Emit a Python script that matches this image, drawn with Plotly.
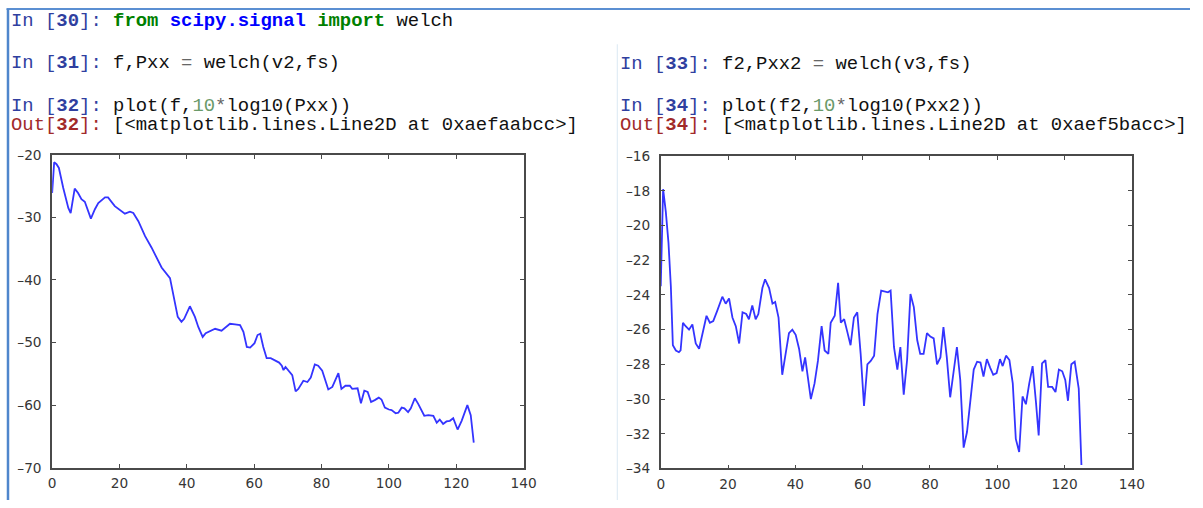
import plotly.graph_objects as go

# ---------------- data ----------------
f1 = [0, 0.6, 1.3, 2.0, 3.3, 4.8, 5.5, 6.7, 7.7, 8.7, 9.7, 11.5, 12.7, 13.7, 15.7, 16.6, 18.6, 20.6,
      21.6, 23.1, 24.1, 25.6, 27.6, 29.5, 32.5, 35.0, 36.0, 37.3, 38.4, 39.2, 40.9, 42.4, 43.4, 44.7,
      45.6, 47.4, 48.4, 50.3, 51.5, 52.8, 54.3, 55.8, 56.8, 57.8, 58.8, 60.1, 61.0, 61.8, 62.7, 63.7,
      64.9, 66.2, 67.4, 68.2, 68.7, 69.3, 70.3, 71.3, 72.3, 73.1, 74.6, 75.8, 76.8, 78.0, 79.0, 80.2,
      82.0, 83.2, 85.0, 85.9, 87.1, 88.4, 89.1, 90.7, 91.7, 92.7, 93.7, 94.7, 95.8, 97.0, 97.8, 98.8,
      100.0, 100.8, 102.0, 102.8, 103.8, 104.6, 105.7, 106.5, 107.7, 108.7, 110.5, 111.7, 113.2, 114.2,
      115.1, 116.1, 117.1, 118.1, 119.1, 120.4, 121.6, 123.3, 124.3, 125.2]
pxx_db = [-26.1, -21.2, -21.5, -22.1, -25.3, -28.5, -29.3, -25.4, -26.1, -27.1, -27.5, -30.2, -28.7,
          -27.7, -26.8, -26.8, -28.2, -29.0, -29.4, -29.1, -29.3, -30.6, -33.0, -34.8, -38.0, -39.7,
          -42.2, -45.9, -46.7, -46.2, -44.2, -45.9, -47.5, -49.1, -48.5, -48.1, -47.8, -48.1, -47.6,
          -47.0, -47.1, -47.2, -48.3, -50.7, -50.8, -50.1, -48.8, -48.6, -50.7, -52.5, -52.5, -52.9,
          -53.2, -53.7, -54.4, -53.9, -54.6, -55.2, -57.8, -57.4, -56.1, -56.3, -55.6, -53.5, -53.7,
          -54.5, -57.5, -57.1, -54.9, -57.4, -56.9, -56.9, -57.4, -57.3, -59.7, -57.7, -57.9, -59.5,
          -59.2, -58.8, -59.1, -60.4, -60.7, -60.8, -61.3, -61.2, -60.4, -60.5, -61.1, -60.5, -58.9,
          -59.8, -61.7, -61.6, -61.7, -62.8, -62.3, -63.0, -62.6, -62.5, -62.1, -63.9, -62.5, -60.0,
          -61.6, -66.0]

f2 = [0, 0.7, 1.5, 2.3, 3.0, 3.6, 4.5, 5.4, 5.9, 6.6, 7.4, 8.4, 9.4, 10.4, 11.4, 12.4, 13.6, 14.6,
      15.6, 16.8, 18.3, 19.3, 20.3, 21.3, 22.3, 23.3, 24.3, 25.4, 26.2, 27.2, 28.2, 29.0, 30.2, 31.0,
      32.2, 33.2, 34.0, 35.0, 36.1, 37.1, 38.1, 39.1, 40.1, 41.1, 42.1, 42.9, 43.6, 44.6, 45.7, 46.7,
      47.8, 48.7, 49.8, 50.5, 51.7, 52.7, 53.5, 54.5, 55.4, 56.4, 57.4, 58.4, 59.4, 60.4, 61.4, 62.4,
      63.4, 64.4, 65.5, 66.5, 67.5, 68.3, 69.3, 70.3, 71.2, 72.2, 73.2, 74.2, 75.2, 76.2, 77.1, 78.1,
      79.1, 80.1, 81.1, 82.1, 83.1, 84.0, 85.0, 86.0, 87.0, 88.0, 89.0, 90.0, 91.0, 92.0, 93.0, 94.0,
      95.0, 95.9, 96.9, 97.9, 98.8, 99.8, 100.8, 101.6, 102.6, 103.6, 104.6, 105.5, 106.5, 107.5,
      108.5, 109.5, 110.5, 111.5, 112.3, 113.3, 114.3, 115.1, 116.3, 117.3, 118.3, 119.3, 120.2,
      121.0, 122.0, 123.0, 124.2, 125.0]
pxx2_db = [-23.5, -17.9, -19.2, -21.0, -23.5, -26.9, -27.2, -27.3, -27.2, -25.6, -25.8, -26.0, -25.7,
           -26.8, -27.1, -26.2, -25.2, -25.6, -25.5, -24.9, -24.1, -24.5, -24.2, -25.3, -25.8, -26.8,
           -25.0, -25.1, -25.4, -24.6, -25.4, -25.1, -23.6, -23.1, -23.6, -24.5, -24.4, -25.3, -28.6,
           -27.4, -26.2, -26.0, -26.3, -27.1, -28.4, -27.6, -28.5, -30.0, -29.1, -27.8, -25.8, -27.2,
           -27.4, -25.6, -25.2, -23.3, -25.6, -25.4, -26.1, -26.9, -25.3, -25.0, -27.4, -30.4, -28.0,
           -27.8, -27.5, -25.1, -23.75, -23.8, -23.85, -23.75, -27.0, -28.3, -27.0, -29.75, -27.75,
           -23.95, -24.7, -26.6, -27.4, -27.4, -26.2, -26.4, -26.5, -28.0, -27.6, -25.85, -27.6, -29.9,
           -28.3, -27.0, -28.9, -32.8, -31.9, -30.2, -28.3, -27.85, -27.9, -28.7, -27.7, -28.2, -28.6,
           -28.5, -27.7, -28.1, -27.5, -27.75, -29.1, -32.3, -33.05, -29.85, -30.3, -29.1, -28.1,
           -30.2, -32.1, -27.95, -27.75, -29.3, -29.3, -29.6, -28.3, -28.4, -28.9, -30.1, -28.0,
           -27.85, -29.4, -33.8]

x_ticks = [0, 20, 40, 60, 80, 100, 120, 140]
x_ticklabels = ["0", "20", "40", "60", "80", "100", "120", "140"]
y1_ticks = [-70, -60, -50, -40, -30, -20]
y1_ticklabels = ["–70", "–60", "–50", "–40", "–30", "–20"]
y2_ticks = [-34, -32, -30, -28, -26, -24, -22, -20, -18, -16]
y2_ticklabels = ["–34", "–32", "–30", "–28", "–26", "–24", "–22", "–20", "–18", "–16"]

assert len(f1) == len(pxx_db) and len(f2) == len(pxx2_db)

# ---------------- figure ----------------
W, H = 1203, 508
# compensation for the small offset/scale observed in the rendered page
SX, OX = 0.987, 2.5
SY, OY = 0.975, 5.5


def px_x(x):
    return max(0.0, (x - OX) / SX) / W


def px_y(y):
    return 1 - max(0.0, (y - OY) / SY) / H


LINE = "#3434ff"
FRAME = "#4a4a4a"
TICKFONT = dict(family="DejaVu Sans", size=13.7, color="#363636")

fig = go.Figure()
fig.add_trace(go.Scatter(x=f1, y=pxx_db, mode="lines", xaxis="x", yaxis="y",
                         line=dict(color=LINE, width=1.8), hoverinfo="skip", showlegend=False))
fig.add_trace(go.Scatter(x=f2, y=pxx2_db, mode="lines", xaxis="x2", yaxis="y2",
                         line=dict(color=LINE, width=1.8), hoverinfo="skip", showlegend=False))

common_axis = dict(showgrid=False, zeroline=False, showline=True, linecolor=FRAME, linewidth=1.7,
                   mirror="allticks", ticks="inside", ticklen=4, tickwidth=1, tickcolor=FRAME,
                   tickfont=TICKFONT, fixedrange=True)

fig.update_layout(
    width=W, height=H, autosize=False,
    margin=dict(l=0, r=0, t=0, b=0),
    paper_bgcolor="white", plot_bgcolor="white",
    xaxis=dict(domain=[px_x(50.7), px_x(522.7)], range=[0, 140], anchor="y",
               tickvals=x_ticks, ticktext=x_ticklabels, ticklabelstandoff=2, **common_axis),
    yaxis=dict(domain=[px_y(468.3), px_y(153.3)], range=[-70, -20], anchor="x",
               tickvals=y1_ticks, ticktext=y1_ticklabels, ticklabelstandoff=6, **common_axis),
    xaxis2=dict(domain=[px_x(660), px_x(1131.7)], range=[0, 140], anchor="y2",
                tickvals=x_ticks, ticktext=x_ticklabels, ticklabelstandoff=2, **common_axis),
    yaxis2=dict(domain=[px_y(469), px_y(154.7)], range=[-34, -16], anchor="x2",
                tickvals=y2_ticks, ticktext=y2_ticklabels, ticklabelstandoff=6, **common_axis),
)

# ---------------- notebook text ----------------
BLUE_P = "#303f9f"
RED_P = "#a12a2a"
GREEN = "#008000"
KW_BLUE = "#0000ff"
NUM = "#6a9a6a"
OP = "#666666"


def inp(n):
    return f'<span style="color:{BLUE_P}">In [<b>{n}</b>]: </span>'


def outp(n):
    return f'<span style="color:{RED_P}">Out[<b>{n}</b>]: </span>'


lines = [
    (9, 19, inp(30) + f'<b><span style="color:{GREEN}">from</span></b> '
                      f'<b><span style="color:{KW_BLUE}">scipy.signal</span></b> '
                      f'<b><span style="color:{GREEN}">import</span></b> welch'),
    (9, 61, inp(31) + f'f,Pxx <span style="color:{OP}">=</span> welch(v2,fs)'),
    (9, 104, inp(32) + f'plot(f,<span style="color:{NUM}">10</span><span style="color:{OP}">*</span>log10(Pxx))'),
    (9, 123, outp(32) + '[&lt;matplotlib.lines.Line2D at 0xaefaabcc&gt;]'),
    (618, 62, inp(33) + f'f2,Pxx2 <span style="color:{OP}">=</span> welch(v3,fs)'),
    (618, 104, inp(34) + f'plot(f2,<span style="color:{NUM}">10</span><span style="color:{OP}">*</span>log10(Pxx2))'),
    (618, 123, outp(34) + '[&lt;matplotlib.lines.Line2D at 0xaef5bacc&gt;]'),
]

for x, y, txt in lines:
    fig.add_annotation(x=px_x(x), y=px_y(y), xref="paper", yref="paper", xanchor="left",
                       yanchor="middle", showarrow=False, text=txt, borderpad=0,
                       font=dict(family="Liberation Mono", size=18.9, color="#111111"))

# cell borders
fig.add_shape(type="line", xref="paper", yref="paper", x0=px_x(5), x1=1, y0=px_y(6.5), y1=px_y(6.5),
              line=dict(color="#5b8fd2", width=2))
fig.add_shape(type="line", xref="paper", yref="paper", x0=px_x(6.5), x1=px_x(6.5), y0=px_y(6.5), y1=0,
              line=dict(color="#4f86cc", width=2.5))
fig.add_shape(type="line", xref="paper", yref="paper", x0=px_x(616.5), x1=px_x(616.5), y0=px_y(42),
              y1=0, line=dict(color="#dbe8f3", width=1))

fig.write_html(
    "out.html",
    config={"displayModeBar": False},
    post_script="document.documentElement.style.margin='0';document.body.style.margin='0';"
                "document.body.style.padding='0';document.body.style.overflow='hidden';"
                "document.documentElement.style.overflow='hidden';",
)
